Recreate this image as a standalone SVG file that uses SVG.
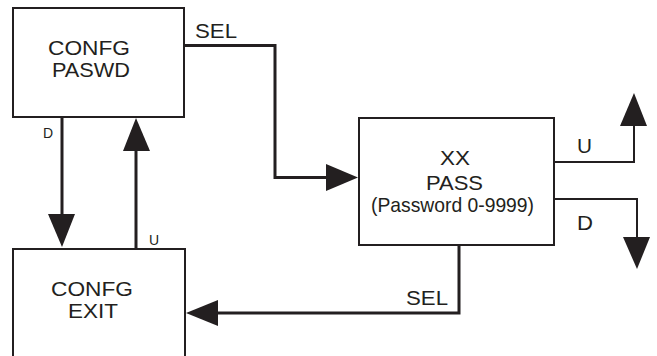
<svg xmlns="http://www.w3.org/2000/svg" width="657" height="356" viewBox="0 0 657 356">
<style>
.box{fill:#fff;stroke:#231f20;stroke-width:2}
.t{font-family:"Liberation Sans",Arial,sans-serif;font-size:21px;fill:#231f20;text-anchor:middle}
.l{font-family:"Liberation Sans",Arial,sans-serif;font-size:21px;fill:#231f20}
.s{font-family:"Liberation Sans",Arial,sans-serif;font-size:14px;fill:#231f20}
.w{fill:none;stroke:#231f20;stroke-width:3}
.n{fill:none;stroke:#231f20;stroke-width:2}
.a{fill:#231f20;stroke:none}
</style>
<rect width="657" height="356" fill="#fff"/>
<g id="connectors">
<polyline class="w" points="184,45.5 275,45.5 275,177.5 330,177.5"/>
<polygon class="a" points="358,177.5 326,164 326,191"/>
<polyline class="w" points="459,245 459,313 214,313"/>
<polygon class="a" points="186,313 218,300 218,326"/>
<line class="w" x1="62" y1="117" x2="62" y2="218"/>
<polygon class="a" points="62,247 48,214 75,214"/>
<line class="w" x1="136" y1="249" x2="136" y2="148"/>
<polygon class="a" points="136,118 123,151 150,151"/>
<polyline class="n" points="554,162 634,162 634,122"/>
<polygon class="a" points="634,93 620,126 647,126"/>
<polyline class="n" points="554,199 637,199 637,240"/>
<polygon class="a" points="637,269 623,237 650,237"/>
<text class="l" x="195" y="38" textLength="42" lengthAdjust="spacingAndGlyphs">SEL</text>
<text class="l" x="406" y="305" textLength="42" lengthAdjust="spacingAndGlyphs">SEL</text>
<text class="l" x="577" y="153" textLength="15" lengthAdjust="spacingAndGlyphs">U</text>
<text class="l" x="577" y="230" textLength="16" lengthAdjust="spacingAndGlyphs">D</text>
<text class="s" x="43" y="138">D</text>
<text class="s" x="149" y="245">U</text>
</g>
<g id="confg-paswd">
<rect class="box" x="13" y="8" width="171" height="109"/>
<text class="t" x="89" y="55" textLength="82" lengthAdjust="spacingAndGlyphs">CONFG</text>
<text class="t" x="91" y="77" textLength="78" lengthAdjust="spacingAndGlyphs">PASWD</text>
</g>
<g id="xx-pass">
<rect class="box" x="359" y="118" width="195" height="127"/>
<text class="t" x="455" y="165" textLength="30" lengthAdjust="spacingAndGlyphs">XX</text>
<text class="t" x="454.5" y="190" textLength="57" lengthAdjust="spacingAndGlyphs">PASS</text>
<text class="t" x="452.5" y="212" font-size="19" textLength="163" lengthAdjust="spacingAndGlyphs">(Password 0-9999)</text>
</g>
<g id="confg-exit">
<rect class="box" x="13" y="249" width="172" height="120"/>
<text class="t" x="92" y="296" textLength="82" lengthAdjust="spacingAndGlyphs">CONFG</text>
<text class="t" x="93" y="318" textLength="50" lengthAdjust="spacingAndGlyphs">EXIT</text>
</g>
</svg>
